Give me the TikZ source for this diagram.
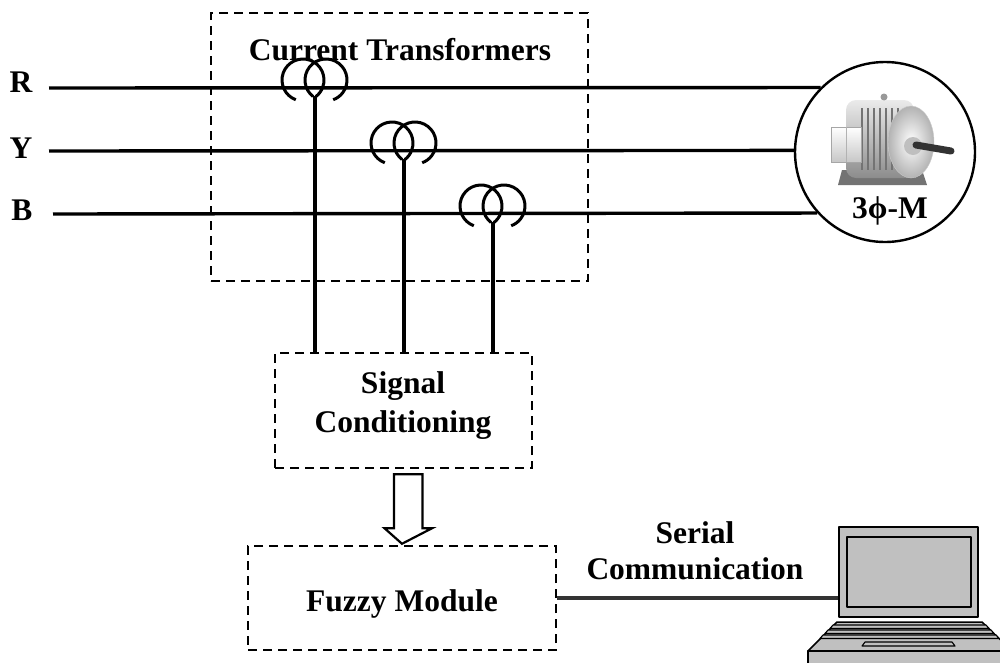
\documentclass[tikz,border=0pt]{standalone}
\usepackage{fontspec}
\setmainfont{Liberation Serif}
\usetikzlibrary{calc}
\definecolor{serialgray}{HTML}{333333}
\definecolor{lapgray}{HTML}{C0C0C0}
\tikzset{
  wire/.style={line width=3.4pt},
  coilline/.style={line width=3pt},
  dbox/.style={draw, rectangle, line width=2.5pt, dash pattern=on 9pt off 6pt, inner sep=0pt},
  lbl/.style={font=\bfseries\fontsize{31.5}{39}\selectfont, inner sep=0pt, anchor=base},
  lapline/.style={draw=black, line width=1.5pt, line join=round},
  ct/.pic={
    \draw[coilline] (-12,-8) ++(110:21) arc[start angle=110, end angle=412, radius=21];
    \draw[coilline] (11,-8) ++(128:21) arc[start angle=128, end angle=430, radius=21];
    \coordinate (-tap) at (0,8);
  }
}
\begin{document}
\begin{tikzpicture}[x=1pt, y=-1pt]
\useasboundingbox (0,0) rectangle (1000,662);
\clip (0,0) rectangle (1000,662);

% boxes
\node[dbox, minimum width=377pt, minimum height=268pt] (ctbox) at (399.5,147) {};
\node[dbox, minimum width=257pt, minimum height=115pt] (sc) at (403.5,410.5) {};
\node[dbox, minimum width=308pt, minimum height=104pt] (fm) at (402,598) {};

% motor
\node[draw, circle, line width=2.4pt, minimum size=180pt, inner sep=0pt] (motor) at (885,152) {};

% phase labels
\node[lbl] (lR) at (21,92) {R};
\node[lbl] (lY) at (21,158) {Y};
\node[lbl] (lB) at (22,220) {B};
\coordinate (Rs) at (49,88);
\coordinate (Ys) at (49,151);
\coordinate (Bs) at (53,214);
\draw[wire] (Rs) -- (motor.135.3);
\draw[wire] (Ys) -- (motor.179.4);
\draw[wire] (Bs) -- (motor.222.9);

% current transformers
\pic (ct1) at (315,88) {ct};
\pic (ct2) at (404,151) {ct};
\pic (ct3) at (493,214) {ct};
\draw[wire] (ct1-tap) -- (ct1-tap |- sc.north);
\draw[wire] (ct2-tap) -- (ct2-tap |- sc.north);
\draw[wire] (ct3-tap) -- (ct3-tap |- sc.north);

% texts
\node[lbl] (tct) at (400,60) {Current Transformers};
\node[lbl] (tsig) at (403,393) {Signal};
\node[lbl] (tcond) at (403,432) {Conditioning};
\node[lbl] (tfm) at (402,611) {Fuzzy Module};
\node[lbl] (tser) at (695,543) {Serial};
\node[lbl] (tcom) at (695,579) {Communication};
\node[lbl] (tmot) at (890,218) {3ϕ-M};

% hollow arrow
\draw[line width=2.2pt, fill=white, line join=miter]
  ($(sc.south)+(-9.5,5)$) -- ++(0,54) -- ++(-9.5,0) -- ($(fm.north)+(0,-1)$)
  -- ($(sc.south)+(28.5,59)$) -- ++(-9.5,0) -- ++(0,-54) -- cycle;

% motor picture
\begin{scope}
  \fill[black!55] (842,170) -- (922,170) -- (927,185) -- (838,185) -- cycle;
  \shade[top color=black!8, bottom color=black!45, rounded corners=10] (846,100) rectangle (914,178);
  \foreach \xx in {862,868,...,902} \draw[black!55, line width=1.6pt] (\xx,108) -- (\xx,170);
  \fill[black!40] (884,97) circle [radius=3.5];
  \shade[top color=white, bottom color=black!22, draw=black!35, line width=0.8pt] (831,127) rectangle (861,162);
  \draw[black!30, line width=0.8pt] (846,127) -- (846,162);
  \shade[inner color=white, outer color=black!30, draw=black!20] (911,142) ellipse [x radius=23, y radius=36];
  \fill[black!25] (913,146) circle [radius=9];
  \draw[black!80, line width=7pt, line cap=round] (916,145) -- (951,151);
\end{scope}

% laptop
\node[lapline, fill=lapgray, rectangle, minimum width=139pt, minimum height=90pt, inner sep=0pt] (screen) at (908.5,572) {};
\draw[lapline, fill=lapgray] (847,537) rectangle (971,607);
\draw[lapline, fill=lapgray] (837,622) -- (982,622) -- (1012,651) -- (808,651) -- cycle;
\draw[lapline, fill=lapgray] (808,651) rectangle (1012,670);
\draw[lapline, fill=lapgray, line width=1.1pt] (833,625) -- (986,625) -- (989,628.5) -- (830,628.5) -- cycle;
\draw[lapline, fill=lapgray, line width=1.1pt] (828,630) -- (991,630) -- (994,633.5) -- (825,633.5) -- cycle;
\draw[lapline, fill=lapgray, line width=1.1pt] (823,635) -- (996,635) -- (999,638.5) -- (820,638.5) -- cycle;
\draw[lapline, fill=lapgray, line width=1.1pt] (865,642) -- (952,642) -- (955,646) -- (862,646) -- cycle;

% serial link
\draw[line width=4pt, serialgray] (fm.east) -- (fm.east -| screen.west);
\end{tikzpicture}
\end{document}
